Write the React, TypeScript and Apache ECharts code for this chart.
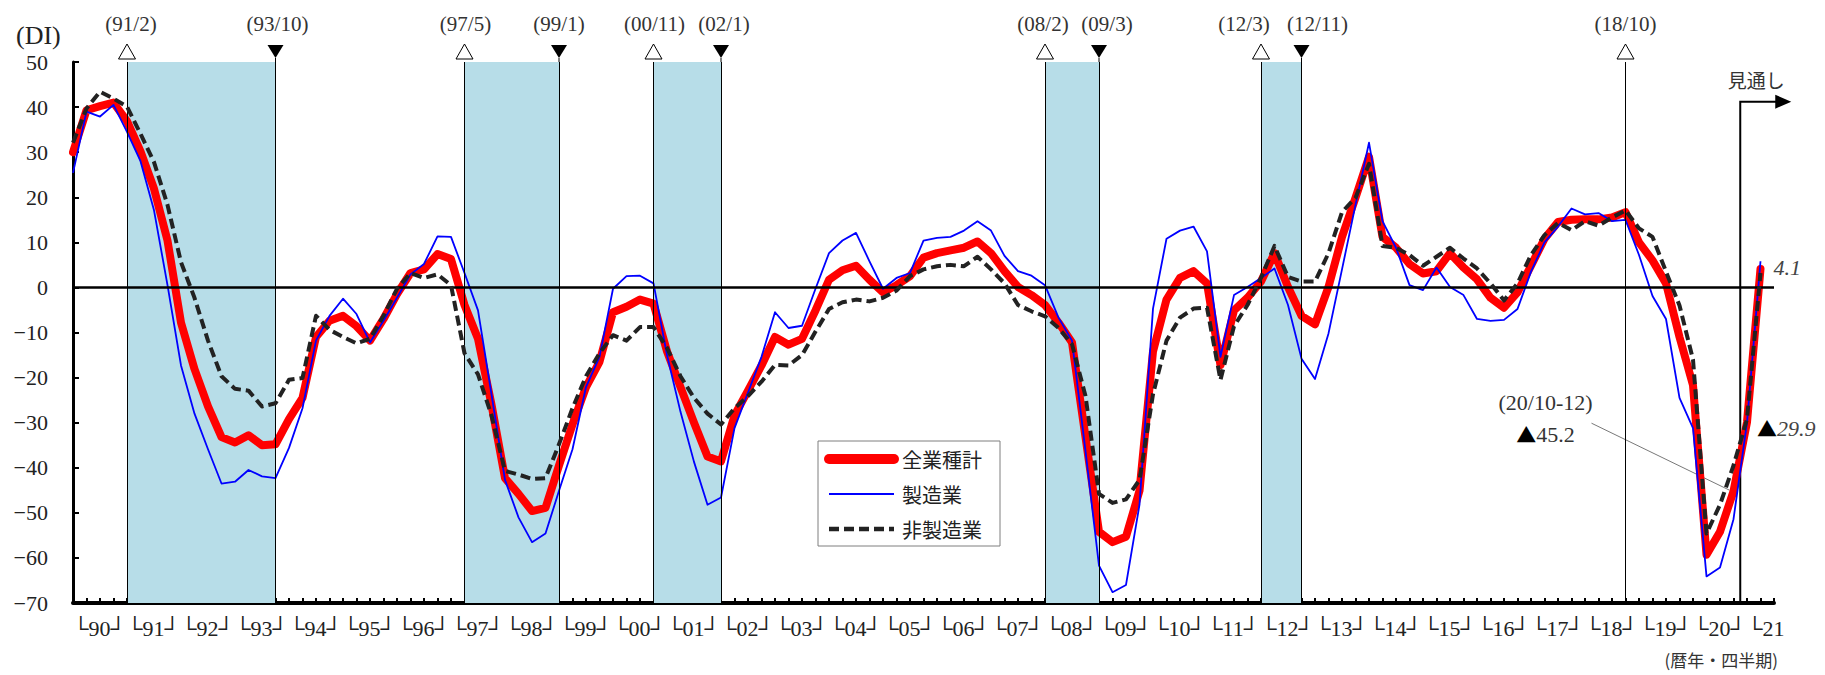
import React, { useEffect, useRef } from 'react';
import * as echarts from 'echarts';

// ---- data (DI, quarterly from 1990 Q1) ----
const yearLabels = [
  '└90┘', '└91┘', '└92┘', '└93┘', '└94┘', '└95┘', '└96┘', '└97┘', '└98┘', '└99┘',
  '└00┘', '└01┘', '└02┘', '└03┘', '└04┘', '└05┘', '└06┘', '└07┘', '└08┘', '└09┘',
  '└10┘', '└11┘', '└12┘', '└13┘', '└14┘', '└15┘', '└16┘', '└17┘', '└18┘', '└19┘',
  '└20┘', '└21',
];
const firstYear = 1990;
const quarterCount = 127; // 1990Q1 .. 2021Q3

const allIndustries = [
  30, 39.3, 40.2, 41.0, 36.9, 30.2, 21.9, 10.4, -7.8, -18.1,
  -26.4, -33.2, -34.4, -32.8, -35.0, -34.8, -29.2, -24.5, -11.0, -7.4,
  -6.3, -8.6, -11.8, -7.0, -1.5, 3.2, 4.0, 7.4, 6.3, -3.9,
  -11.4, -26.0, -42.3, -45.8, -49.6, -48.9, -39.5, -30.4, -22.1, -16.5,
  -5.5, -4.3, -2.7, -3.6, -14.2, -22.1, -30.0, -37.5, -38.6, -28.4,
  -22.9, -17.3, -11.0, -12.7, -11.4, -5.1, 1.7, 3.8, 4.8, 1.7,
  -1.1, 0.5, 2.5, 6.6, 7.6, 8.2, 8.8, 10.2, 7.6, 3.6,
  0.1, -1.7, -3.9, -7.8, -12.2, -33.2, -54.2, -56.5, -55.3, -45.1,
  -14.2, -2.7, 2.1, 3.6, 0.9, -17.3, -5.1, -2.3, 1.3, 7.6,
  0.1, -6.3, -8.2, 0.1, 11.2, 19.9, 29.0, 11.2, 8.8, 5.2,
  3.1, 3.6, 7.6, 4.4, 1.8, -2.3, -4.5, -1.1, 4.8, 10.8,
  14.5, 15.0, 15.1, 15.1, 15.5, 16.7, 10.0, 6.0, 0.9, -11.0,
  -21.7, -59.3, -54.2, -45.2, -29.9, 4.1,
];
const manufacturing = [
  25.4, 39.0, 37.9, 40.5, 34.5, 28.0, 17.1, 0.5, -17.3, -28.0,
  -35.9, -43.5, -43.1, -40.5, -41.9, -42.3, -35.6, -26.8, -11.8, -6.3,
  -2.5, -5.9, -12.2, -7.4, -2.3, 2.9, 5.2, 11.3, 11.2, 3.2,
  -5.1, -23.7, -42.7, -51.0, -56.5, -54.6, -45.1, -35.9, -22.1, -15.4,
  -0.3, 2.5, 2.6, 0.9, -15.0, -27.6, -38.7, -48.2, -46.6, -31.2,
  -23.3, -15.4, -5.5, -9.0, -8.5, -0.3, 7.6, 10.4, 12.1, 5.8,
  -0.3, 2.1, 3.2, 10.4, 11.0, 11.2, 12.6, 14.7, 12.6, 7.0,
  3.6, 2.6, 0.5, -6.7, -11.8, -36.3, -61.7, -67.6, -66.0, -48.2,
  -4.7, 10.8, 12.6, 13.5, 8.0, -15.4, -1.7, 0.1, 2.1, 4.2,
  -3.9, -15.8, -20.3, -10.2, 4.0, 18.3, 32.1, 14.7, 8.8, 0.5,
  -0.6, 4.4, 0.1, -1.7, -7.0, -7.4, -7.2, -4.8, 3.5, 10.0,
  13.5, 17.5, 16.2, 16.5, 14.7, 15.0, 7.2, -1.9, -7.0, -24.5,
  -31.2, -64.1, -62.1, -51.4, -30.0, 5.8,
];
const nonManufacturing = [
  32.1, 39.7, 43.4, 41.9, 40.1, 34.1, 27.8, 18.3, 5.6, -2.3,
  -11.8, -19.7, -22.5, -22.9, -26.4, -25.7, -20.5, -20.1, -6.3, -9.4,
  -11.0, -12.4, -11.4, -6.3, -0.3, 3.2, 2.1, 2.9, 0.5, -14.6,
  -19.3, -28.4, -40.7, -41.5, -42.5, -42.3, -34.8, -26.8, -19.7, -14.6,
  -10.6, -11.8, -8.8, -8.8, -13.4, -19.7, -24.5, -28.0, -30.4, -26.8,
  -24.1, -20.9, -17.2, -17.3, -15.0, -9.8, -4.8, -3.3, -2.7, -3.1,
  -2.3, -0.7, 2.5, 4.0, 4.7, 5.0, 4.7, 6.8, 4.0, 0.9,
  -3.9, -5.3, -6.4, -9.0, -12.6, -24.1, -45.8, -47.8, -47.0, -42.7,
  -23.7, -11.8, -6.7, -4.7, -4.5, -20.5, -8.6, -3.9, 2.1, 9.2,
  2.3, 1.3, 1.3, 7.6, 16.7, 19.9, 27.4, 9.2, 8.8, 7.2,
  4.8, 6.8, 8.8, 6.4, 4.2, 0.9, -2.9, 0.9, 7.2, 11.6,
  14.3, 12.7, 14.7, 13.7, 15.5, 17.1, 13.1, 11.2, 3.5, -4.0,
  -16.0, -54.6, -48.2, -39.5, -29.2, 3.2,
];

// recession shading (peak quarter -> trough quarter)
const recessions: [string, string][] = [
  ['1991Q1', '1993Q4'],
  ['1997Q2', '1999Q1'],
  ['2000Q4', '2002Q1'],
  ['2008Q1', '2009Q1'],
  ['2012Q1', '2012Q4'],
];
// business-cycle turning points
const turningPoints = [
  { q: '1991Q1', text: '(91/2)', kind: 'peak', dx: 4 },
  { q: '1993Q4', text: '(93/10)', kind: 'trough', dx: 2 },
  { q: '1997Q2', text: '(97/5)', kind: 'peak', dx: 1 },
  { q: '1999Q1', text: '(99/1)', kind: 'trough', dx: 0 },
  { q: '2000Q4', text: '(00/11)', kind: 'peak', dx: 1 },
  { q: '2002Q1', text: '(02/1)', kind: 'trough', dx: 3 },
  { q: '2008Q1', text: '(08/2)', kind: 'peak', dx: -2 },
  { q: '2009Q1', text: '(09/3)', kind: 'trough', dx: 8 },
  { q: '2012Q1', text: '(12/3)', kind: 'peak', dx: -17 },
  { q: '2012Q4', text: '(12/11)', kind: 'trough', dx: 16 },
  { q: '2018Q4', text: '(18/10)', kind: 'peak', dx: 0 },
];
const lastActual = '2020Q4';
const firstForecast = '2021Q1';

const seriesNames = ['全業種計', '製造業', '非製造業'];

const categories: string[] = [];
for (let i = 0; i < quarterCount; i++) {
  categories.push(`${firstYear + Math.floor(i / 4)}Q${(i % 4) + 1}`);
}

const SERIF = "'Liberation Serif', 'DejaVu Serif', serif";
const BOX = "'Liberation Serif', 'DejaVu Sans', serif";
const JP = "'Noto Sans CJK JP', 'Noto Sans', sans-serif";

const styles = [
  { color: '#FF0000', width: 8, dash: null as number[] | null, legendWidth: 10 },
  { color: '#0000FF', width: 1.8, dash: null as number[] | null, legendWidth: 2 },
  { color: '#222222', width: 4, dash: [10, 5] as number[] | null, legendWidth: 4.5 },
];

export default function App() {
  const ref = useRef<HTMLDivElement>(null);

  useEffect(() => {
    document.body.style.margin = '0';
    const chart = echarts.init(ref.current!, null, { renderer: 'svg' });

    const dataSets = [allIndustries, manufacturing, nonManufacturing];

    const option: any = {
      animation: false,
      backgroundColor: '#ffffff',
      grid: { left: 73, right: 51, top: 62, bottom: 72 },
      xAxis: {
        type: 'category',
        data: categories,
        boundaryGap: false,
        axisLine: { onZero: false, lineStyle: { color: '#000', width: 4 } },
        axisTick: { show: true, inside: true, length: 5, interval: 0, lineStyle: { color: '#000', width: 2 } },
        axisLabel: {
          interval: (index: number) => index % 4 === 0,
          formatter: (_v: string, index: number) => yearLabels[Math.floor(index / 4)] ?? '',
          align: 'left',
          margin: 14,
          fontFamily: BOX,
          fontSize: 22,
          color: '#222',
        },
        splitLine: { show: false },
      },
      yAxis: {
        type: 'value',
        min: -70,
        max: 50,
        interval: 10,
        axisLine: { show: true, lineStyle: { color: '#000', width: 3 } },
        axisTick: { show: true, inside: true, length: 6, lineStyle: { color: '#000', width: 2 } },
        axisLabel: {
          margin: 25,
          fontFamily: SERIF,
          fontSize: 22,
          color: '#222',
          formatter: (v: number) => (v < 0 ? '\u2212' + Math.abs(v) : String(v)),
        },
        splitLine: { show: false },
      },
      series: [
        {
          name: 'shade',
          type: 'line',
          z: 1,
          silent: true,
          data: categories.map(() => null),
          markArea: {
            silent: true,
            itemStyle: { color: '#B7DDE8' },
            data: recessions.map(([a, b]) => [{ xAxis: a }, { xAxis: b }]),
          },
        },
        {
          name: 'rules',
          type: 'line',
          z: 2,
          silent: true,
          data: categories.map(() => null),
          markLine: {
            silent: true,
            symbol: 'none',
            label: { show: false },
            data: [
              { yAxis: 0, lineStyle: { color: '#000', width: 2.5, type: 'solid' } },
              ...turningPoints.map((t) => ({ xAxis: t.q, lineStyle: { color: '#000', width: 1, type: 'solid' } })),
            ],
          },
        },
        ...seriesNames.map((name, k) => ({
          name,
          type: 'line',
          z: 3 + k,
          data: dataSets[k],
          symbol: 'none',
          lineStyle: {
            color: styles[k].color,
            width: styles[k].width,
            type: styles[k].dash ?? 'solid',
            cap: k === 0 ? 'round' : 'butt',
            join: 'round',
          },
          itemStyle: { color: styles[k].color },
        })),
      ],
    };
    chart.setOption(option);

    const px = (i: number, v: number) =>
      chart.convertToPixel({ xAxisIndex: 0, yAxisIndex: 0 }, [i, v]) as number[];
    const idx = (q: string) => categories.indexOf(q);

    const g: any[] = [];
    const [, topY] = px(0, 50);
    const [, botY] = px(0, -70);

    g.push({
      type: 'text', x: 16, y: 35,
      style: { text: '(DI)', font: `26px ${SERIF}`, fill: '#222', verticalAlign: 'middle' },
    });

    turningPoints.forEach((t) => {
      const [x] = px(idx(t.q), 50);
      if (t.kind === 'peak') {
        g.push({
          type: 'polygon',
          shape: { points: [[x - 8.5, topY - 3], [x + 8.5, topY - 3], [x, topY - 18]] },
          style: { fill: '#fff', stroke: '#000', lineWidth: 1 },
        });
      } else {
        g.push({
          type: 'polygon',
          shape: { points: [[x - 8, topY - 17], [x + 8, topY - 17], [x, topY - 4]] },
          style: { fill: '#000' },
        });
        g.push({ type: 'line', shape: { x1: x, y1: topY - 4, x2: x, y2: topY }, style: { stroke: '#000', lineWidth: 1 } });
      }
      g.push({
        type: 'text', x: x + t.dx, y: topY - 38,
        style: { text: t.text, font: `21px ${SERIF}`, fill: '#333', align: 'center', verticalAlign: 'middle' },
      });
    });

    // legend (drawn by hand so that icon line widths follow the series)
    const lgX = 818, lgY = 441, lgW = 182, lgH = 105;
    g.push({
      type: 'rect',
      shape: { x: lgX, y: lgY, width: lgW, height: lgH },
      style: { fill: '#fff', stroke: '#7f7f7f', lineWidth: 1 },
      z: 10,
    });
    seriesNames.forEach((name, k) => {
      const cy = lgY + 18 + k * 35;
      g.push({
        type: 'line',
        shape: { x1: lgX + 11, y1: cy, x2: lgX + 76, y2: cy },
        style: {
          stroke: styles[k].color,
          lineWidth: styles[k].legendWidth,
          lineDash: styles[k].dash ?? null,
          lineCap: k === 0 ? 'round' : 'butt',
        },
        z: 11,
      });
      g.push({
        type: 'text', x: lgX + 84, y: cy,
        style: { text: name, font: `20px ${JP}`, fill: '#222', verticalAlign: 'middle' },
        z: 11,
      });
    });

    // forecast marker
    const xa = px(idx(lastActual), 0)[0];
    const xb = px(idx(firstForecast), 0)[0];
    const fx = (xa + xb) / 2;
    const [, arrowY] = px(0, 41.2);
    g.push({
      type: 'polyline',
      shape: { points: [[fx, botY], [fx, arrowY], [fx + 36, arrowY]] },
      style: { stroke: '#000', lineWidth: 2, fill: null },
    });
    g.push({
      type: 'polygon',
      shape: { points: [[fx + 35, arrowY - 7], [fx + 51, arrowY], [fx + 35, arrowY + 7]] },
      style: { fill: '#000' },
    });
    g.push({
      type: 'text', x: fx + 16, y: arrowY - 22,
      style: { text: '見通し', font: `19px ${JP}`, fill: '#333', align: 'center', verticalAlign: 'middle' },
    });

    // value call-outs
    const n = allIndustries.length;
    const pLast = px(n - 1, allIndustries[n - 1]);
    g.push({
      type: 'text', x: pLast[0] + 13, y: pLast[1] - 1,
      style: { text: String(allIndustries[n - 1]), font: `italic 22px ${SERIF}`, fill: '#444', verticalAlign: 'middle' },
    });
    const pFc = px(n - 2, allIndustries[n - 2]);
    g.push({
      type: 'text', x: pFc[0] + 10, y: pFc[1] + 6,
      style: {
        text: '{a|▲}{b|' + Math.abs(allIndustries[n - 2]).toFixed(1) + '}',
        verticalAlign: 'middle',
        rich: {
          a: { font: `20px ${JP}`, fill: '#000' },
          b: { font: `italic 22px ${SERIF}`, fill: '#444' },
        },
      },
    });
    const qi = idx(lastActual);
    const pQ = px(qi, allIndustries[qi]);
    g.push({
      type: 'text', x: pQ[0] - 188, y: pQ[1] - 89,
      style: { text: '(20/10-12)', font: `22px ${SERIF}`, fill: '#333', align: 'center', verticalAlign: 'middle' },
    });
    g.push({
      type: 'text', x: pQ[0] - 188, y: pQ[1] - 57,
      style: {
        text: '{a|▲}{b|' + Math.abs(allIndustries[qi]).toFixed(1) + '}',
        align: 'center', verticalAlign: 'middle',
        rich: {
          a: { font: `20px ${JP}`, fill: '#000' },
          b: { font: `22px ${SERIF}`, fill: '#333' },
        },
      },
    });
    g.push({
      type: 'line',
      shape: { x1: pQ[0] - 142, y1: pQ[1] - 68, x2: pQ[0] - 4, y2: pQ[1] - 1 },
      style: { stroke: '#555', lineWidth: 0.8 },
    });

    g.push({
      type: 'text', x: 1778, y: 659,
      style: { text: '(暦年・四半期)', font: `17px ${JP}`, fill: '#333', align: 'right', verticalAlign: 'middle' },
    });

    chart.setOption({ graphic: g });

    return () => chart.dispose();
  }, []);

  return <div ref={ref} style={{ width: 1825, height: 675 }} />;
}
